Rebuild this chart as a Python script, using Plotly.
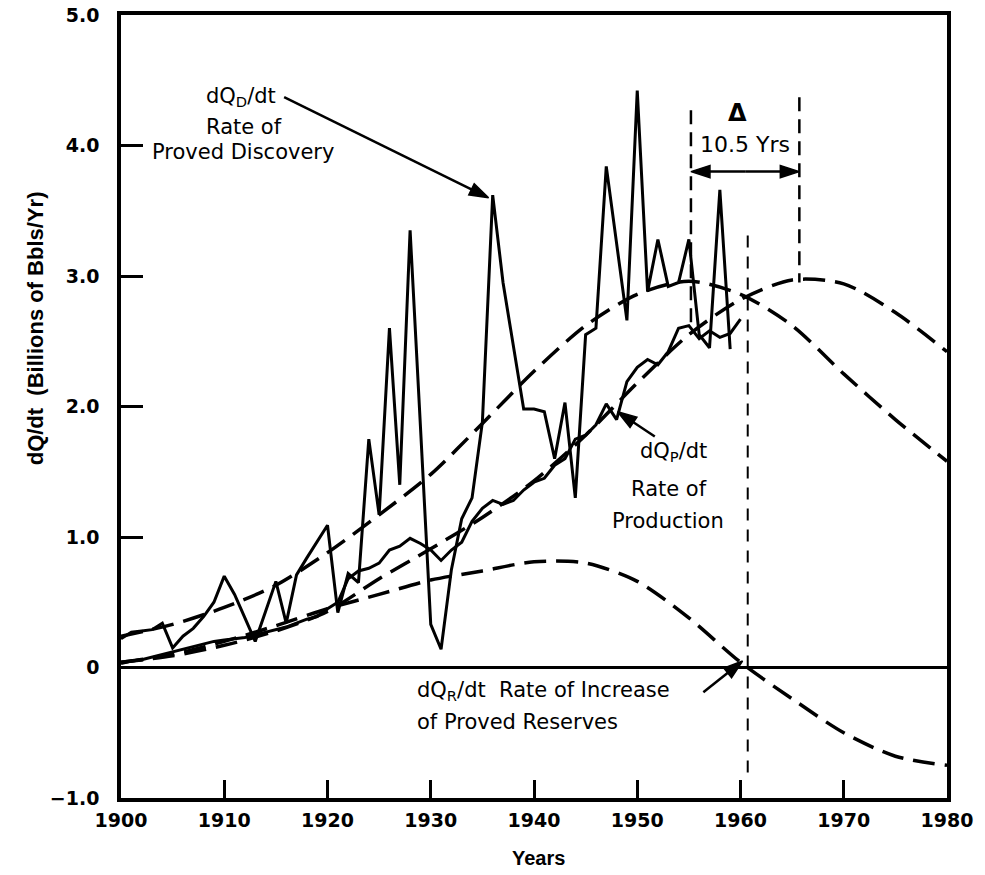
import plotly.graph_objects as go

# ---- observed annual rates (billions of barrels per year) ----
disc_years = list(range(1900, 1960))
discovery = [
    0.22, 0.27, 0.28, 0.29, 0.34, 0.15, 0.24, 0.30, 0.39, 0.50,
    0.70, 0.56, 0.38, 0.20, 0.43, 0.66, 0.34, 0.71, 0.84, 0.96,
    1.09, 0.42, 0.72, 0.65, 1.75, 1.17, 2.60, 1.40, 3.35, 1.85,
    0.33, 0.14, 0.75, 1.14, 1.30, 1.88, 3.62, 2.95, 2.45, 1.98,
    1.98, 1.96, 1.60, 2.03, 1.30, 2.55, 2.60, 3.84, 3.25, 2.66,
    4.42, 2.88, 3.28, 2.92, 2.95, 3.28, 2.55, 2.45, 3.66, 2.44,
]

prod_years = list(range(1900, 1961))
production = [
    0.03, 0.05, 0.06, 0.08, 0.10, 0.12, 0.14, 0.16, 0.18, 0.20,
    0.21, 0.22, 0.23, 0.25, 0.27, 0.29, 0.31, 0.34, 0.37, 0.39,
    0.45, 0.50, 0.68, 0.74, 0.76, 0.80, 0.90, 0.93, 0.99, 0.95,
    0.90, 0.82, 0.90, 0.96, 1.12, 1.22, 1.28, 1.25, 1.28, 1.36,
    1.42, 1.45, 1.55, 1.60, 1.75, 1.78, 1.86, 2.02, 1.90, 2.19,
    2.30, 2.36, 2.32, 2.42, 2.60, 2.62, 2.52, 2.58, 2.53, 2.56,
    2.67,
]

# ---- fitted (smooth) curves, every 5 years ----
fit_years = list(range(1900, 1981, 5))
disc_fit = [0.24, 0.33, 0.46, 0.63, 0.88, 1.17, 1.48, 1.87, 2.27,
            2.62, 2.86, 2.96, 2.86, 2.62, 2.25, 1.90, 1.58]
prod_fit = [0.04, 0.09, 0.17, 0.28, 0.43, 0.68, 0.91, 1.15, 1.43,
            1.78, 2.18, 2.55, 2.82, 2.97, 2.94, 2.72, 2.42]
res_fit = [0.04, 0.10, 0.20, 0.32, 0.45, 0.56, 0.67, 0.74, 0.81,
           0.80, 0.66, 0.38, 0.04, -0.24, -0.50, -0.68, -0.75]

# ---- axis ticks ----
x_ticks = list(range(1900, 1981, 10))
x_labels = [str(v) for v in x_ticks]
y_ticks = [-1, 0, 1, 2, 3, 4, 5]
y_labels = ["\u22121.0", "0", "1.0", "2.0", "3.0", "4.0", "5.0"]

# ---- time lag between discovery peak and production peak ----
lag_start = 1955.2
lag_years = 10.5
lag_end = lag_start + lag_years
lag_mid = (lag_start + lag_end) / 2
reserve_zero_year = 1960.7

BLACK = "black"
TXT = "DejaVu Sans"
solid = dict(color=BLACK, width=3)
dashed = dict(color=BLACK, width=3.5, dash="22px,10px", shape="spline", smoothing=0.8)

fig = go.Figure()
fig.add_trace(go.Scatter(x=disc_years, y=discovery, mode="lines", line=solid,
                         name="Rate of Proved Discovery"))
fig.add_trace(go.Scatter(x=prod_years, y=production, mode="lines", line=solid,
                         name="Rate of Production"))
fig.add_trace(go.Scatter(x=fit_years, y=disc_fit, mode="lines", line=dashed))
fig.add_trace(go.Scatter(x=fit_years, y=prod_fit, mode="lines", line=dashed))
fig.add_trace(go.Scatter(x=fit_years, y=res_fit, mode="lines", line=dashed))


def pointer(x_tail, y_tail, x_head, y_head, width=2.5, head=20):
    """Straight leader line with a solid arrowhead at (x_head, y_head)."""
    fig.add_trace(go.Scatter(
        x=[x_tail, x_head], y=[y_tail, y_head], mode="lines+markers",
        line=dict(color=BLACK, width=width),
        marker=dict(symbol="arrow", size=[0, head], angleref="previous",
                    color=BLACK, opacity=1, line=dict(width=1.5, color=BLACK)),
        hoverinfo="skip"))


# leaders from the labels to their curves
pointer(1915.8, 4.37, 1935.6, 3.60)
pointer(1951.7, 1.77, 1948.1, 1.96)
pointer(1956.4, -0.19, 1960.2, 0.05)
# two-headed span for the lag
pointer(lag_mid, 3.80, lag_start, 3.80)
pointer(lag_mid, 3.80, lag_end, 3.80)

shapes = [
    dict(type="line", xref="x", yref="y", x0=lag_start, x1=lag_start, y0=4.27, y1=2.59,
         line=dict(color=BLACK, width=2.5, dash="14px,8px")),
    dict(type="line", xref="x", yref="y", x0=lag_end, x1=lag_end, y0=4.37, y1=2.95,
         line=dict(color=BLACK, width=2.5, dash="14px,8px")),
    dict(type="line", xref="x", yref="y", x0=reserve_zero_year, x1=reserve_zero_year,
         y0=3.31, y1=-0.86, line=dict(color=BLACK, width=2, dash="12px,9px")),
]


def label(x, y, text, size=21, xanchor="center", **kw):
    return dict(x=x, y=y, xref="x", yref="y", text=text, showarrow=False,
                xanchor=xanchor, yanchor="middle",
                font=dict(family=TXT, size=size, color=BLACK), **kw)


annotations = [
    label(1911.6, 4.37, "dQ<sub>D</sub>/dt"),
    label(1911.9, 4.14, "Rate of"),
    label(1911.8, 3.95, "Proved Discovery"),

    label(1953.5, 1.65, "dQ<sub>P</sub>/dt"),
    label(1953.1, 1.37, "Rate of"),
    label(1953.0, 1.12, "Production"),

    label(1928.5, -0.18, "dQ<sub>R</sub>/dt  Rate of Increase", xanchor="left"),
    label(1928.5, -0.42, "of Proved Reserves", xanchor="left"),

    label(1959.7, 4.25, "<b>\u0394</b>", size=24),
    label(1960.4, 4.01, "10.5 Yrs", size=22),

    dict(x=-0.104, y=0.60, xref="paper", yref="paper", text="dQ/dt  (Billions of Bbls/Yr)",
         textangle=-90, showarrow=False, xanchor="center", yanchor="middle",
         font=dict(family="Liberation Sans", size=22, color=BLACK, weight="bold")),
    dict(x=0.505, y=-0.0764, xref="paper", yref="paper", text="Years",
         showarrow=False, xanchor="center", yanchor="middle",
         font=dict(family="Liberation Sans", size=20, color=BLACK, weight="bold")),
]

fig.update_layout(
    width=985, height=875,
    margin=dict(l=121, r=38, t=15, b=77),
    plot_bgcolor="white", paper_bgcolor="white",
    showlegend=False,
    shapes=shapes,
    annotations=annotations,
)
fig.update_xaxes(
    range=[1900, 1980], tickvals=x_ticks, ticktext=x_labels,
    ticks="inside", ticklen=18, tickwidth=2.5, tickcolor=BLACK,
    showline=True, linewidth=3.5, linecolor=BLACK, mirror=True,
    showgrid=False, zeroline=False, ticklabelstandoff=2, automargin=False,
    tickfont=dict(family=TXT, size=19, color=BLACK, weight="bold"),
)
fig.update_yaxes(
    range=[-1, 5], tickvals=y_ticks, ticktext=y_labels,
    ticks="inside", ticklen=22, tickwidth=2.5, tickcolor=BLACK,
    showline=True, linewidth=3.5, linecolor=BLACK, mirror=True,
    showgrid=False, zeroline=True, zerolinewidth=2.5, zerolinecolor=BLACK,
    ticklabelstandoff=14, automargin=False,
    tickfont=dict(family=TXT, size=19, color=BLACK, weight="bold"),
)

fig.write_html("out.html")
